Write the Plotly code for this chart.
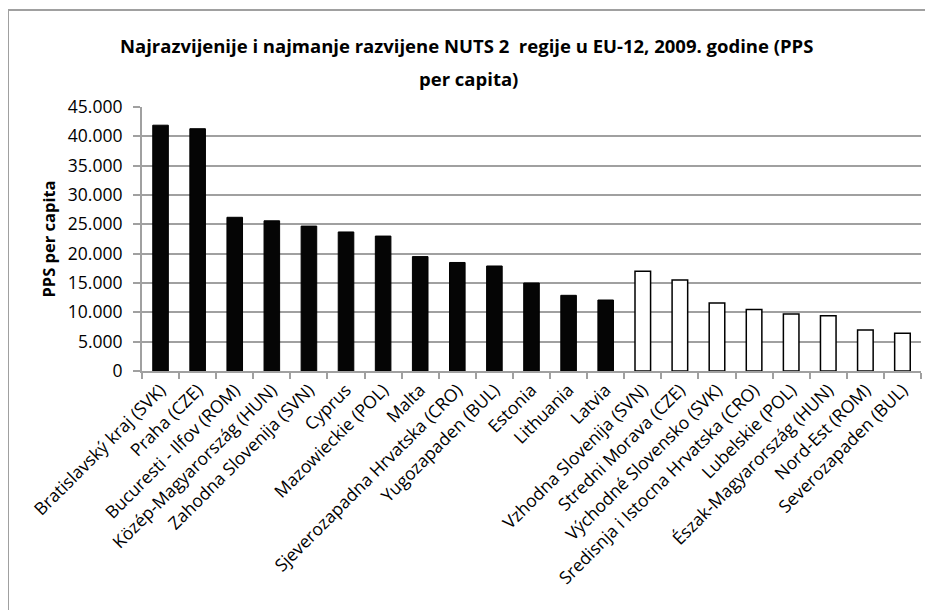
import plotly.graph_objects as go

regions_top = ["Bratislavský kraj (SVK)", "Praha (CZE)", "Bucuresti - Ilfov (ROM)",
               "Közép-Magyarország (HUN)", "Zahodna Slovenija (SVN)", "Cyprus",
               "Mazowieckie (POL)", "Malta", "Sjeverozapadna Hrvatska (CRO)",
               "Yugozapaden (BUL)", "Estonia", "Lithuania", "Latvia"]
values_top = [41900, 41300, 26200, 25600, 24700, 23700, 23000, 19500, 18500,
              17900, 15000, 12900, 12100]

regions_bottom = ["Vzhodna Slovenija (SVN)", "Stredni Morava (CZE)", "Východné Slovensko (SVK)",
                  "Sredisnja i Istocna Hrvatska (CRO)", "Lubelskie (POL)",
                  "Észak-Magyarország (HUN)", "Nord-Est (ROM)", "Severozapaden (BUL)"]
values_bottom = [17000, 15500, 11600, 10500, 9700, 9400, 7000, 6450]

y_ticks = [0, 5000, 10000, 15000, 20000, 25000, 30000, 35000, 40000, 45000]
y_tick_labels = ["0", "5.000", "10.000", "15.000", "20.000", "25.000", "30.000",
                 "35.000", "40.000", "45.000"]

title_line1 = "Najrazvijenije i najmanje razvijene NUTS 2  regije u EU-12, 2009. godine (PPS"
title_line2 = "per capita)"

FONT = "Open Sans"
# page body has an 8px margin; plot area placed at page x 142..921, y 107..371
OFF = 8
L, T, PW, PH = 142, 107, 779, 264

def px_x(x):
    return (x - L) / PW

def px_y(y):
    return (T + PH - y) / PH

fig = go.Figure()
fig.add_trace(go.Bar(x=regions_top, y=values_top, marker=dict(color="#050505",
                     line=dict(color="#000000", width=1)), showlegend=False))
fig.add_trace(go.Bar(x=regions_bottom, y=values_bottom, marker=dict(color="#ffffff",
                     line=dict(color="#000000", width=1.5)), showlegend=False))

fig.update_layout(
    width=933 - OFF, height=610 - OFF,
    margin=dict(l=L - OFF, r=933 - (L + PW), t=T - OFF, b=610 - (T + PH), autoexpand=False),
    paper_bgcolor="white", plot_bgcolor="white",
    barmode="overlay", bargap=0.58,
    font=dict(family=FONT, size=14, color="#000000"),
    annotations=[
        dict(text="<b>" + title_line1 + "</b>", xref="paper", yref="paper",
             x=px_x(466), y=px_y(45), xanchor="center", yanchor="middle", showarrow=False,
             font=dict(family=FONT, size=18.5, color="#000000")),
        dict(text="<b>" + title_line2 + "</b>", xref="paper", yref="paper",
             x=px_x(468), y=px_y(78), xanchor="center", yanchor="middle", showarrow=False,
             font=dict(family=FONT, size=18.5, color="#000000")),
    ],
    shapes=[dict(type="rect", xref="paper", yref="paper",
                 x0=px_x(8), x1=px_x(945), y0=px_y(625), y1=px_y(10),
                 line=dict(color="#a0a0a0", width=2), fillcolor="rgba(0,0,0,0)")],
)
fig.update_xaxes(type="category", categoryorder="array",
                 categoryarray=regions_top + regions_bottom,
                 tickangle=-45, ticks="outside", tickson="boundaries", ticklen=6,
                 tickcolor="#a0a0a0", tickwidth=1.5, showline=True, linecolor="#a0a0a0", linewidth=2,
                 tickfont=dict(family=FONT, size=17.5), showgrid=False, automargin=False)
fig.update_yaxes(range=[0, 45000], tickvals=y_ticks, ticktext=y_tick_labels,
                 ticks="outside", ticklen=7, tickcolor="#a0a0a0", tickwidth=1.5,
                 ticklabelstandoff=7,
                 showline=True, linecolor="#a0a0a0", linewidth=2,
                 showgrid=True, gridcolor="#a0a0a0", gridwidth=2,
                 zeroline=False, tickfont=dict(family=FONT, size=17.5), automargin=False,
                 title=dict(text="<b>PPS per capita</b>", font=dict(family=FONT, size=16.5), standoff=8))

fig.write_html("out.html")
